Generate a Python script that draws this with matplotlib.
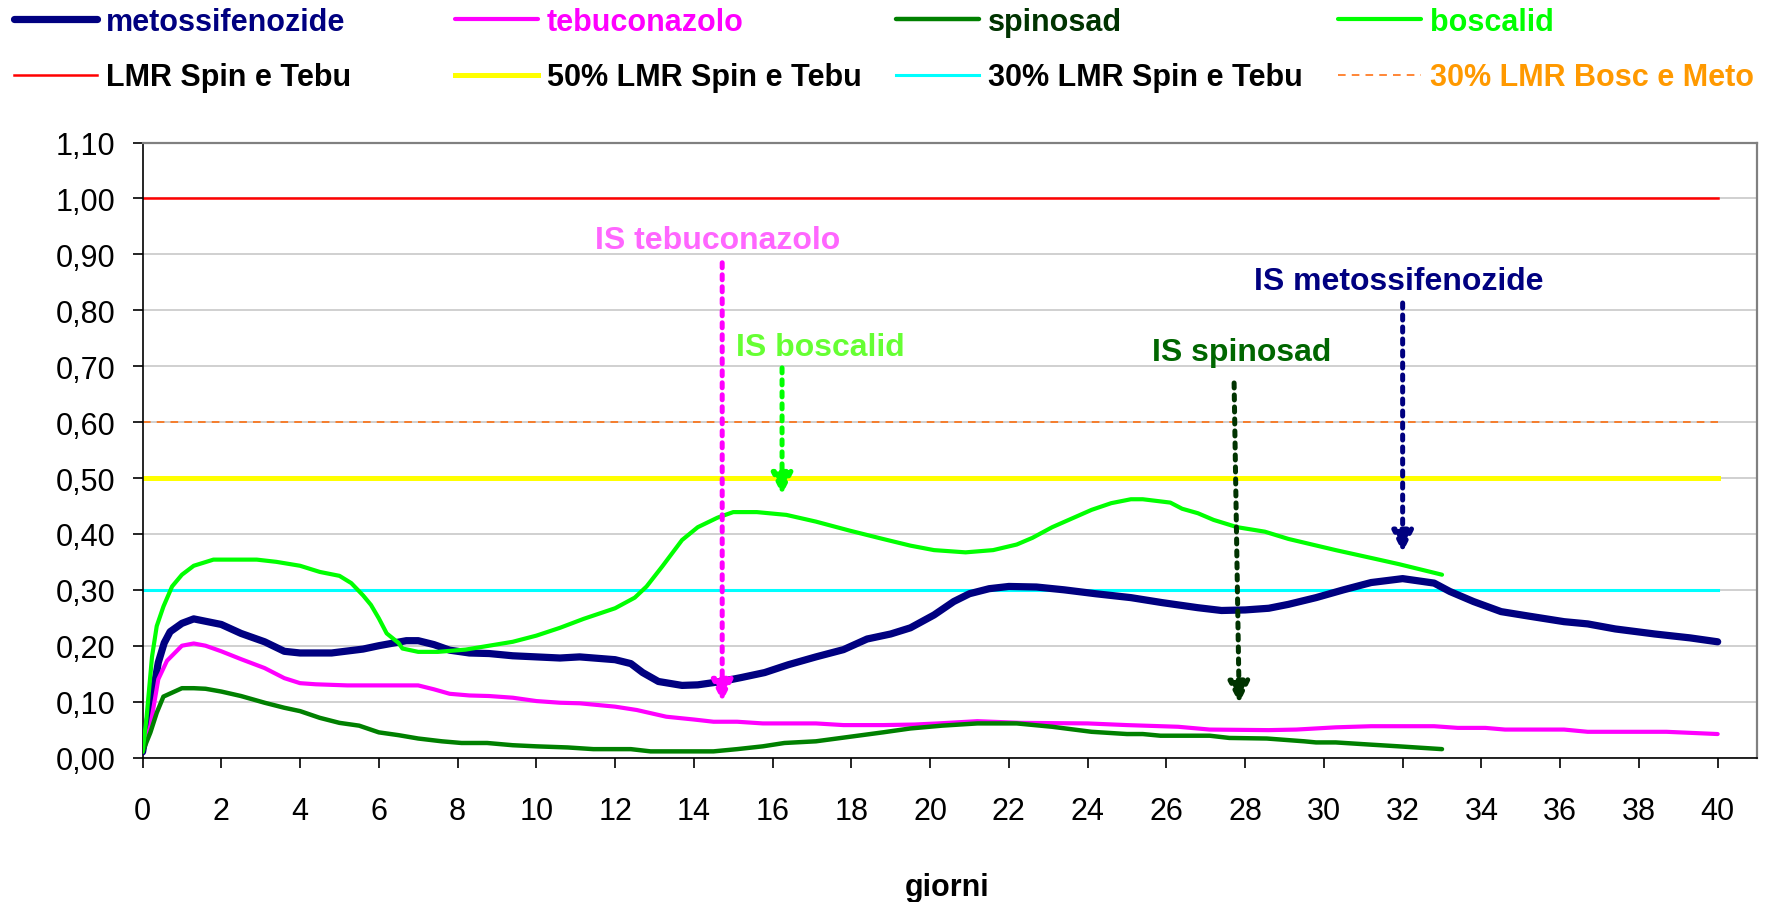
import matplotlib
matplotlib.use('Agg')
import matplotlib.pyplot as plt
from matplotlib.ticker import FuncFormatter, MultipleLocator

plt.rcParams['font.family'] = ['Liberation Sans', 'DejaVu Sans']

# indici di sicurezza per principio attivo (giorni dal trattamento)
meto_x = [0, 0.2, 0.4, 0.55, 0.7, 1.0, 1.3, 2.0, 2.5, 3.1, 3.6, 4.0, 4.8, 5.6, 6.0,
          6.7, 7.0, 7.4, 7.8, 8.3, 8.8, 9.4, 10.0, 10.6, 11.1, 12.0, 12.4, 12.7, 13.1, 13.7,
          14.1, 14.7, 15.2, 15.8, 16.4, 17.1, 17.8, 18.4, 19.0, 19.5, 20.1, 20.6, 21.0, 21.5, 22.0,
          22.7, 23.4, 24.2, 25.1, 25.9, 26.8, 27.4, 28.0, 28.6, 29.1, 29.8, 30.5, 31.2, 32.0, 32.8,
          33.2, 33.8, 34.5, 35.2, 36.1, 36.7, 37.4, 38.4, 39.3, 40.0]
meto_y = [0.01, 0.09, 0.17, 0.205, 0.225, 0.24, 0.248, 0.238, 0.222, 0.207, 0.19, 0.187, 0.187, 0.194, 0.200,
          0.209, 0.209, 0.202, 0.192, 0.187, 0.186, 0.182, 0.180, 0.178, 0.180, 0.175, 0.168, 0.152, 0.136, 0.129,
          0.130, 0.136, 0.143, 0.152, 0.166, 0.180, 0.193, 0.212, 0.221, 0.232, 0.255, 0.279, 0.293, 0.302, 0.306,
          0.305, 0.300, 0.293, 0.286, 0.277, 0.268, 0.263, 0.264, 0.267, 0.274, 0.286, 0.300, 0.313, 0.320, 0.312,
          0.297, 0.279, 0.261, 0.253, 0.243, 0.239, 0.230, 0.221, 0.214, 0.207]

tebu_x = [0, 0.2, 0.4, 0.62, 1.0, 1.3, 1.6, 2.0, 2.5, 3.1, 3.6, 4.0, 4.4, 5.2, 6.0,
          7.0, 7.4, 7.8, 8.3, 8.8, 9.4, 10.0, 10.6, 11.1, 12.0, 12.55, 13.3, 14.0, 14.5, 15.1,
          15.75, 17.1, 17.8, 18.8, 19.6, 20.2, 21.2, 22.3, 24.0, 25.0, 26.3, 27.1, 28.6, 29.3, 30.3,
          31.2, 32.8, 33.4, 34.1, 34.6, 36.1, 36.7, 38.7, 40.0]
tebu_y = [0.01, 0.057, 0.14, 0.173, 0.20, 0.204, 0.20, 0.19, 0.176, 0.16, 0.142, 0.133, 0.131, 0.129, 0.129,
          0.129, 0.122, 0.114, 0.111, 0.110, 0.107, 0.101, 0.098, 0.097, 0.091, 0.085, 0.073, 0.068, 0.064, 0.064,
          0.061, 0.061, 0.058, 0.058, 0.059, 0.061, 0.065, 0.062, 0.061, 0.058, 0.055, 0.050, 0.049, 0.050, 0.054,
          0.056, 0.056, 0.053, 0.053, 0.050, 0.050, 0.046, 0.046, 0.042]

spin_x = [0, 0.2, 0.36, 0.53, 1.0, 1.3, 1.6, 2.0, 2.5, 3.1, 3.6, 4.0, 4.5, 5.0, 5.5,
          6.0, 6.5, 7.0, 7.6, 8.1, 8.75, 9.4, 10.0, 10.8, 11.45, 12.4, 12.9, 14.5, 15.1, 15.75,
          16.3, 17.1, 17.95, 18.8, 19.5, 20.3, 21.2, 22.2, 23.1, 24.1, 25.0, 25.4, 25.85, 27.1, 27.6,
          28.55, 29.5, 29.8, 30.3, 31.2, 31.9, 33.0]
spin_y = [0.01, 0.045, 0.08, 0.109, 0.124, 0.124, 0.123, 0.118, 0.110, 0.098, 0.089, 0.083, 0.071, 0.062, 0.057,
          0.045, 0.040, 0.034, 0.029, 0.026, 0.026, 0.022, 0.020, 0.018, 0.015, 0.015, 0.011, 0.011, 0.015, 0.020,
          0.026, 0.029, 0.037, 0.045, 0.052, 0.057, 0.061, 0.061, 0.055, 0.046, 0.042, 0.042, 0.039, 0.039, 0.035,
          0.034, 0.029, 0.027, 0.027, 0.023, 0.020, 0.015]

bosc_x = [0, 0.1, 0.24, 0.36, 0.53, 0.75, 1.0, 1.3, 1.8, 2.9, 3.4, 4.0, 4.5, 5.0, 5.3,
          5.6, 5.8, 6.0, 6.2, 6.5, 6.6, 7.0, 7.5, 8.2, 8.8, 9.4, 10.0, 10.6, 11.2, 12.0,
          12.5, 12.8, 13.2, 13.7, 14.1, 14.6, 15.0, 15.6, 16.35, 17.1, 17.95, 18.8, 19.5, 20.1, 20.9,
          21.6, 22.2, 22.6, 23.1, 24.1, 24.6, 25.1, 25.4, 26.1, 26.4, 26.8, 27.2, 27.8, 28.5, 29.1,
          29.7, 30.3, 31.2, 31.9, 33.0]
bosc_y = [0.01, 0.07, 0.18, 0.235, 0.27, 0.306, 0.327, 0.343, 0.354, 0.354, 0.35, 0.343, 0.332, 0.325, 0.312,
          0.29, 0.273, 0.249, 0.222, 0.205, 0.195, 0.189, 0.189, 0.193, 0.20, 0.207, 0.218, 0.232, 0.248, 0.267,
          0.286, 0.306, 0.342, 0.389, 0.412, 0.429, 0.439, 0.439, 0.434, 0.422, 0.406, 0.391, 0.379, 0.371, 0.367,
          0.371, 0.381, 0.393, 0.412, 0.443, 0.455, 0.462, 0.462, 0.456, 0.445, 0.437, 0.425, 0.412, 0.404, 0.391,
          0.381, 0.371, 0.357, 0.346, 0.327]

# soglie (frazione del LMR)
lmr_spin_tebu = 1.0
lmr50_spin_tebu = 0.5
lmr30_spin_tebu = 0.3
lmr30_bosc_meto = 0.6
soglie_x = [0, 40]

# intervalli di sicurezza: testo, posizione testo, inizio e punta della freccia
is_labels = ['IS tebuconazolo', 'IS boscalid', 'IS spinosad', 'IS metossifenozide']
is_text_xy = [(14.6, 0.925), (17.2, 0.735), (27.9, 0.725), (31.9, 0.853)]
is_arrow_from = [(14.72, 0.885), (16.24, 0.697), (27.72, 0.67), (32.0, 0.813)]
is_arrow_to = [(14.72, 0.10), (16.24, 0.47), (27.85, 0.097), (32.0, 0.367)]
is_text_col = ['#FF66FF', '#66FF33', '#006600', '#000080']
is_arrow_col = ['#FF00FF', '#00FF00', '#003300', '#000080']

fig = plt.figure(figsize=(17.73, 9.03), dpi=100, facecolor='white')
ax = fig.add_axes([0.0804, 0.16, 0.9106, 0.681])

# soglie orizzontali
l_lmr, = ax.plot(soglie_x, [lmr_spin_tebu] * 2, color='#FF0000', lw=1.8, zorder=2)
l_50, = ax.plot(soglie_x, [lmr50_spin_tebu] * 2, color='#FFFF00', lw=3.6, zorder=2)
l_30, = ax.plot(soglie_x, [lmr30_spin_tebu] * 2, color='#00FFFF', lw=2.2, zorder=2)
l_bm, = ax.plot(soglie_x, [lmr30_bosc_meto] * 2, color='#FF6600', lw=1.1,
                linestyle=(0, (5, 4)), zorder=2)

# curve
l_meto, = ax.plot(meto_x, meto_y, color='#000080', lw=5.2, solid_capstyle='round', zorder=3)
l_tebu, = ax.plot(tebu_x, tebu_y, color='#FF00FF', lw=3.0, solid_capstyle='round', zorder=3)
l_spin, = ax.plot(spin_x, spin_y, color='#008000', lw=3.2, solid_capstyle='round', zorder=3)
l_bosc, = ax.plot(bosc_x, bosc_y, color='#00FF00', lw=3.0, solid_capstyle='round', zorder=3)

# frecce IS
for lab, txy, a0, a1, tc, ac in zip(is_labels, is_text_xy, is_arrow_from, is_arrow_to,
                                    is_text_col, is_arrow_col):
    ax.text(txy[0], txy[1], lab, color=tc, fontsize=23, fontweight='bold',
            ha='center', va='center', zorder=5)
    ax.annotate('', xy=a1, xytext=a0,
                arrowprops=dict(arrowstyle='-|>', color=ac, lw=3.6, linestyle=(0, (1, 1.4)),
                                mutation_scale=32, shrinkA=0, shrinkB=0),
                zorder=5)

ax.set_xlim(0, 41)
ax.set_ylim(0, 1.1)
ax.xaxis.set_major_locator(MultipleLocator(2))
ax.yaxis.set_major_locator(MultipleLocator(0.1))
ax.yaxis.set_major_formatter(FuncFormatter(lambda v, p: f'{v:.2f}'.replace('.', ',')))
ax.xaxis.set_major_formatter(FuncFormatter(lambda v, p: '%d' % v if v <= 40 else ''))

ax.yaxis.grid(True, color='#C8C8C8', lw=1.2)
ax.set_axisbelow(True)
ax.tick_params(axis='both', direction='out', length=7.5, width=1.2, labelsize=22)
ax.tick_params(axis='x', pad=20)
ax.tick_params(axis='y', pad=12)
for s in ['left', 'bottom']:
    ax.spines[s].set_color('black')
    ax.spines[s].set_linewidth(1.2)
for s in ['top', 'right']:
    ax.spines[s].set_color('#808080')
    ax.spines[s].set_linewidth(1.6)

ax.set_xlabel('giorni', fontsize=22, fontweight='bold')
ax.xaxis.set_label_coords(0.498, -0.21)
ax.xaxis.label.set_va('center')

# legenda su due righe, quattro colonne
colonne = [
    ([l_meto, l_lmr], ['metossifenozide', 'LMR Spin e Tebu'], ['#000080', 'black']),
    ([l_tebu, l_50], ['tebuconazolo', '50% LMR Spin e Tebu'], ['#FF00FF', 'black']),
    ([l_spin, l_30], ['spinosad', '30% LMR Spin e Tebu'], ['#003300', 'black']),
    ([l_bosc, l_bm], ['boscalid', '30% LMR Bosc e Meto'], ['#00FF00', '#FF9900']),
]
col_x = [14, 455, 896, 1338]
for (hs, labs, cols), cx in zip(colonne, col_x):
    leg = fig.legend(hs, labs, loc='upper left', bbox_to_anchor=(cx / 1773, 0.9915),
                     frameon=False, borderpad=0, borderaxespad=0, handlelength=2.7,
                     handletextpad=0.3, labelspacing=0.84,
                     prop={'size': 22, 'weight': 'bold'})
    for t, c in zip(leg.get_texts(), cols):
        t.set_color(c)

fig.savefig('out.png', dpi=100)
